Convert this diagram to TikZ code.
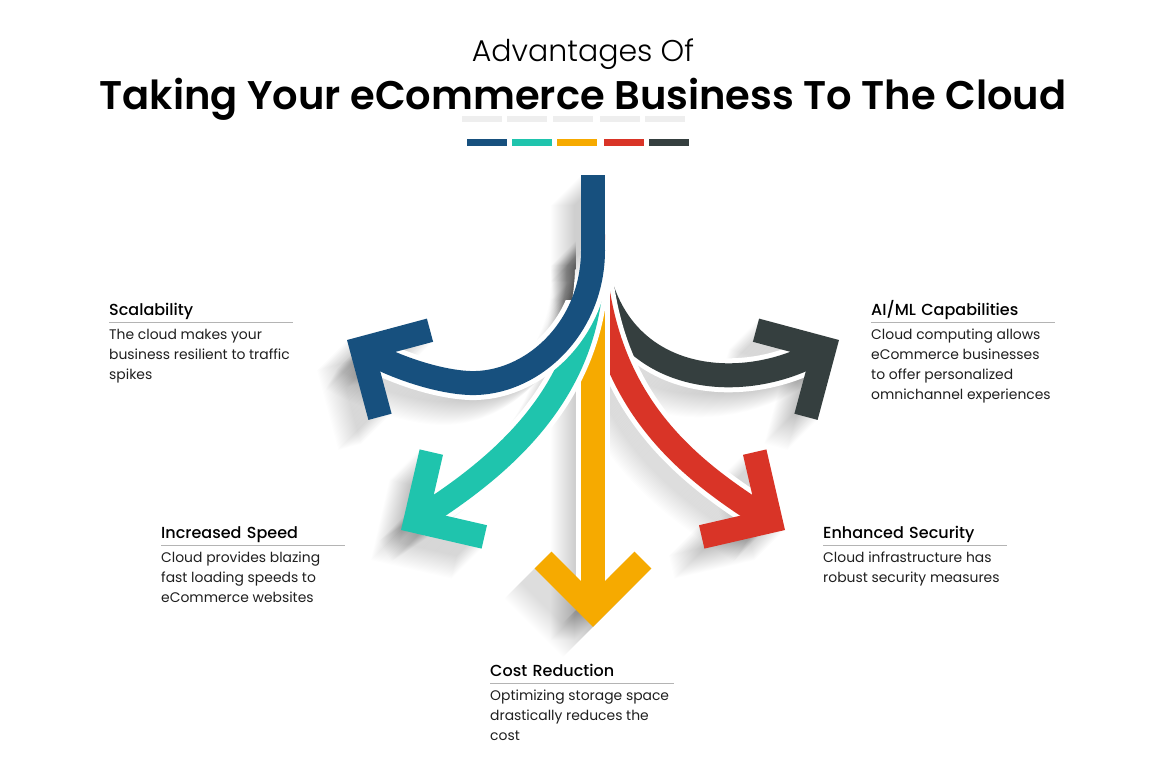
\documentclass[tikz,border=0pt]{standalone}
\usepackage{fontspec}
\setmainfont{Poppins}
\newfontfamily\lightfont{Poppins Light}
\newfontfamily\medfont{Poppins Medium}
\newfontfamily\semifont{Poppins SemiBold}
\usetikzlibrary{positioning}
\definecolor{arrBlue}{HTML}{17507E}
\definecolor{arrTeal}{HTML}{1FC4AD}
\definecolor{arrGold}{HTML}{F6AA00}
\definecolor{arrRed}{HTML}{D93427}
\definecolor{arrSlate}{HTML}{353F3F}
\definecolor{ruleGrey}{HTML}{B4B4B4}
\definecolor{barGrey}{HTML}{EEEEEE}

\tikzset{chevron/.pic={\draw[line width=24pt,line join=miter] (-50,-50) -- (0,0) -- (-50,50);}}

% paths of the five arrows (pixel units, y downwards)
\newcommand{\blueStem}{(593,175) -- (593,252)}
\newcommand{\bluePath}{(593,250) .. controls (593,330) and (530,385) .. (470,383) .. controls (440,382) and (395,368) .. (361.7,348.5)}
\newcommand{\tealPath}{(592,270) .. controls (588,395) and (500,468) .. (415.4,521)}
\newcommand{\goldPath}{(593,240) -- (593,610)}
\newcommand{\redPath}{(593,235) .. controls (596,400) and (686,468) .. (770.6,521)}
\newcommand{\slatePath}{(593,235) .. controls (598,385) and (740,400) .. (824.3,348.5)}

\newcommand{\arrowshadow}[3]{%
  \foreach \s in {1,...,30}{%
    \begin{scope}[shift={(-\s,\s)},opacity=0.008]
      \draw[black,line width=24pt] #1;
      \pic[black,rotate=#3] at (#2) {chevron};
    \end{scope}}}
\newcommand{\cloudarrow}[4]{%
  \draw[white,line width=5pt,double=#1,double distance=24pt] #2;
  \pic[#1,rotate=#4] at (#3) {chevron};}

\begin{document}
\begin{tikzpicture}[x=1pt,y=-1pt,
  hd/.style={anchor=base west,inner xsep=0pt,inner ysep=2pt,text depth=4.5pt,text width=184pt,
    font=\medfont\fontsize{16}{20}\selectfont},
  txt/.style={inner sep=0pt,align=left,text=black!88,font=\fontsize{13.9}{20}\selectfont},
  rule/.style={draw=ruleGrey,line width=1pt}]
\fill[white] (0,0) rectangle (1164,782);
\useasboundingbox (0,0) rectangle (1164,782);

\node[font=\lightfont\fontsize{30}{34}\selectfont,anchor=base] (subTtl) at (583,61) {Advantages Of};
\node[font=\semifont\fontsize{40}{46}\selectfont,anchor=base] (mainTtl) at (583,109) {Taking Your eCommerce Business To The Cloud};
\foreach \x in {462,507,553,600,645} \fill[barGrey] (\x,116) rectangle ++(40,6);
\foreach \x/\c in {467/arrBlue,512/arrTeal,557/arrGold,604/arrRed,649/arrSlate}
  \fill[\c] (\x,139.3) rectangle ++(40,6.4);

% soft shadows
\arrowshadow{\slatePath}{824.3,348.5}{30}
\arrowshadow{\redPath}{770.6,521}{-32}
\arrowshadow{\goldPath}{593,610}{-90}
\arrowshadow{\tealPath}{415.4,521}{-148}
\arrowshadow{\bluePath}{361.7,348.5}{-210}

% arrows, back to front
\cloudarrow{arrSlate}{\slatePath}{824.3,348.5}{30}
\cloudarrow{arrRed}{\redPath}{770.6,521}{-32}
\cloudarrow{arrGold}{\goldPath}{593,610}{-90}
\cloudarrow{arrTeal}{\tealPath}{415.4,521}{-148}
\foreach \s in {1,...,30}
  \draw[black,opacity=0.008,line width=24pt,shift={(-\s,\s)}] \blueStem;
\begin{scope}
  \clip (0,0) -- (1164,0) -- (1164,782) -- (0,782) -- (0,300) -- (580.5,300) -- (580.5,240) -- (0,240) -- cycle;
  \draw[white,line width=34pt] \bluePath;
\end{scope}
\draw[arrBlue,line width=24pt] \bluePath;
\pic[arrBlue,rotate=-210] at (361.7,348.5) {chevron};
\draw[arrBlue,line width=24pt] \blueStem;

\node[hd] (scalHd) at (109,315.5) {Scalability};
\draw[rule] (scalHd.south west) -- (scalHd.south east);
\node[txt,below right=6.5pt and 0pt of scalHd.south west] (scalTx) {The cloud makes your\\business resilient to traffic\\spikes};

\node[hd] (aimlHd) at (871,315.5) {AI/ML Capabilities};
\draw[rule] (aimlHd.south west) -- (aimlHd.south east);
\node[txt,below right=6.5pt and 0pt of aimlHd.south west] (aimlTx) {Cloud computing allows\\eCommerce businesses\\to offer personalized\\omnichannel experiences};

\node[hd] (speedHd) at (161,538.5) {Increased Speed};
\draw[rule] (speedHd.south west) -- (speedHd.south east);
\node[txt,below right=6.5pt and 0pt of speedHd.south west] (speedTx) {Cloud provides blazing\\fast loading speeds to\\eCommerce websites};

\node[hd] (secHd) at (823,538.5) {Enhanced Security};
\draw[rule] (secHd.south west) -- (secHd.south east);
\node[txt,below right=6.5pt and 0pt of secHd.south west] (secTx) {Cloud infrastructure has\\robust security measures};

\node[hd] (costHd) at (490,676.5) {Cost Reduction};
\draw[rule] (costHd.south west) -- (costHd.south east);
\node[txt,below right=6.5pt and 0pt of costHd.south west] (costTx) {Optimizing storage space\\drastically reduces the\\cost};
\end{tikzpicture}
\end{document}
